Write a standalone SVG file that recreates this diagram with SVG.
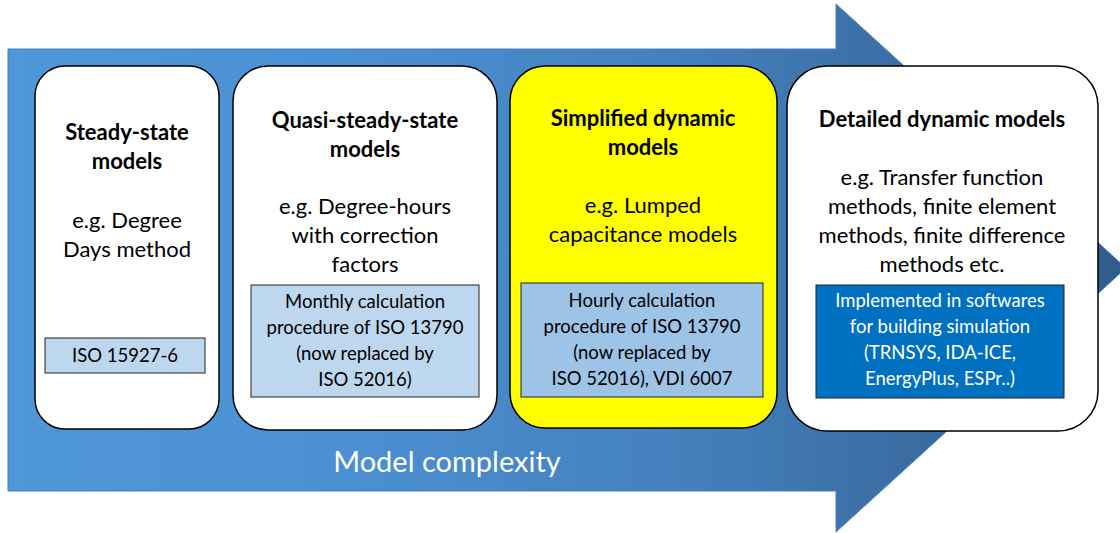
<svg xmlns="http://www.w3.org/2000/svg" width="1120" height="533" viewBox="0 0 1120 533">
<defs>
<linearGradient id="ag" x1="8" y1="0" x2="1126" y2="0" gradientUnits="userSpaceOnUse">
<stop offset="0" stop-color="#5097d8"/>
<stop offset="0.3" stop-color="#4b90d2"/>
<stop offset="0.6" stop-color="#4580bd"/>
<stop offset="1" stop-color="#2f5c8a"/>
</linearGradient>
<style>
.card{fill:#fff;stroke:#000;stroke-width:1.5}
.t{font-family:Lato,"Open Sans",sans-serif;text-anchor:middle;fill:#000}
.h{font-size:22px;font-weight:bold}
.b{font-size:22px}
.s{font-size:18.5px}
.ib{fill:#bdd7ee;stroke:#222;stroke-width:1}
</style>
</defs>
<g id="arrow">
<path d="M8,49 H836 V4 L1126,268 L836,532 V491 H8 Z" fill="url(#ag)" stroke="#4a7fbf" stroke-width="1"/>
<text class="t" x="447" y="472" style="font-size:29px;fill:#fff">Model complexity</text>
</g>
<g id="connectors"/>
<g id="n1">
<rect class="card" x="35" y="66" width="184" height="363" rx="30"/>
<text class="t h" x="127" y="140">Steady-state</text>
<text class="t h" x="127" y="169">models</text>
<text class="t b" x="127" y="228">e.g. Degree</text>
<text class="t b" x="127" y="257">Days method</text>
<rect class="ib" x="45" y="338" width="160" height="35"/>
<text class="t s" x="125" y="362">ISO 15927-6</text>
</g>
<g id="n2">
<rect class="card" x="233" y="66" width="264" height="364" rx="35"/>
<text class="t h" x="365" y="128">Quasi-steady-state</text>
<text class="t h" x="365" y="157">models</text>
<text class="t b" x="365" y="214">e.g. Degree-hours</text>
<text class="t b" x="365" y="243">with correction</text>
<text class="t b" x="365" y="272">factors</text>
<rect class="ib" x="251" y="285" width="228" height="112"/>
<text class="t s" x="365" y="308">Monthly calculation</text>
<text class="t s" x="365" y="334">procedure of ISO 13790</text>
<text class="t s" x="365" y="360">(now replaced by</text>
<text class="t s" x="365" y="386">ISO 52016)</text>
</g>
<g id="n3">
<rect class="card" x="510" y="66" width="267" height="362" rx="35" style="fill:#ffff00"/>
<text class="t h" x="643" y="126">Simplified dynamic</text>
<text class="t h" x="643" y="155">models</text>
<text class="t b" x="643" y="213">e.g. Lumped</text>
<text class="t b" x="643" y="242">capacitance models</text>
<rect class="ib" x="521" y="283" width="242" height="114" style="fill:#9dc3e6"/>
<text class="t s" x="642" y="307">Hourly calculation</text>
<text class="t s" x="642" y="333">procedure of ISO 13790</text>
<text class="t s" x="642" y="359">(now replaced by</text>
<text class="t s" x="642" y="385">ISO 52016), VDI 6007</text>
</g>
<g id="n4">
<rect class="card" x="787" y="66" width="311" height="365" rx="40"/>
<text class="t h" x="942" y="127">Detailed dynamic models</text>
<text class="t b" x="942" y="185">e.g. Transfer function</text>
<text class="t b" x="942" y="214">methods, finite element</text>
<text class="t b" x="942" y="243">methods, finite difference</text>
<text class="t b" x="942" y="272">methods etc.</text>
<rect class="ib" x="816" y="285" width="248" height="113" style="fill:#0070c0"/>
<text class="t s" x="940" y="307" style="fill:#fff">Implemented in softwares</text>
<text class="t s" x="940" y="333" style="fill:#fff">for building simulation</text>
<text class="t s" x="940" y="359" style="fill:#fff">(TRNSYS, IDA-ICE,</text>
<text class="t s" x="940" y="385" style="fill:#fff">EnergyPlus, ESPr..)</text>
</g>
</svg>
